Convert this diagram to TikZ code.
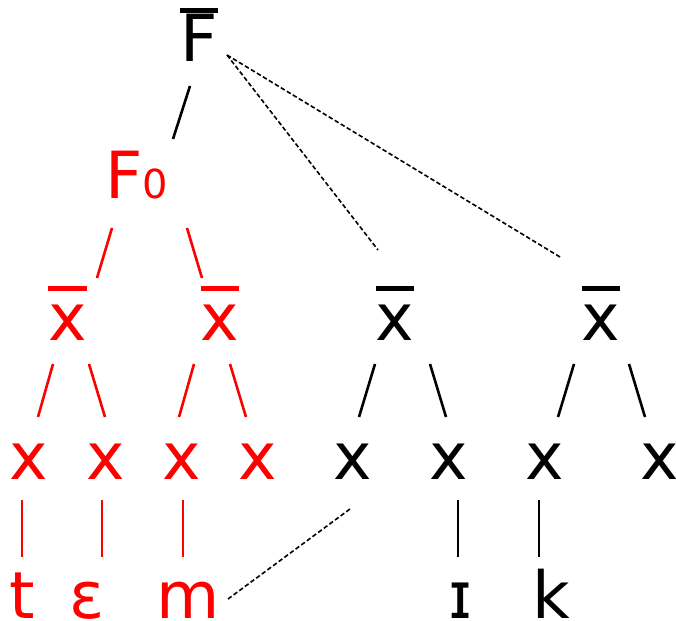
\documentclass[tikz,border=0pt]{standalone}
\usepackage{fontspec}
\setmainfont{DejaVu Sans}
\newcommand\ovlbar[1]{\ooalign{\hidewidth\rule[0.76em]{0.585em}{0.075em}\hidewidth\cr#1}}
\tikzset{
  lab/.style={inner sep=0pt, outer sep=0pt, anchor=base, font=\fontsize{65}{70}\selectfont},
  redlab/.style={lab, text=red},
  tree/.style={line width=2.6pt},
  redtree/.style={tree, draw=red},
  dashlink/.style={line width=1.6pt, dash pattern=on 4.5pt off 2.5pt},
}
\begin{document}
\begin{tikzpicture}[x=1pt,y=-1pt]
\useasboundingbox (0,0) rectangle (676,620);
% nodes
\node[lab] (Fb) at (199,62) {\ovlbar{F}};
\node[redlab] (F0) at (137,198) {F{\fontsize{40}{45}\selectfont 0}};
\node[redlab] (xb1) at (67.5,340) {\ovlbar{x}};
\node[redlab] (xb2) at (220,340) {\ovlbar{x}};
\node[lab] (xb3) at (395,340) {\ovlbar{x}};
\node[lab] (xb4) at (601,340) {\ovlbar{x}};
\node[redlab] (x1) at (29,479) {x};
\node[redlab] (x2) at (106,479) {x};
\node[redlab] (x3) at (182,479) {x};
\node[redlab] (x4) at (258,479) {x};
\node[lab] (x5) at (353,479) {x};
\node[lab] (x6) at (449,479) {x};
\node[lab] (x7) at (545,479) {x};
\node[lab] (x8) at (660,479) {x};
\node[redlab] (st) at (22,618) {t};
\node[redlab] (se) at (87,618) {ɛ};
\node[redlab] (sm) at (188,618) {m};
\node[lab] (si) at (461,618) {ɪ};
\node[lab] (sk) at (551,618) {k};
% connector end points
\coordinate (Fb-s) at (190,86);   \coordinate (F0-n) at (173,139);
\coordinate (Fb-d) at (227,55);
\coordinate (xb3-n) at (378,250); \coordinate (xb4-n) at (560,257);
\coordinate (F0-sl) at (112,228); \coordinate (xb1-n) at (97,278);
\coordinate (F0-sr) at (187,228); \coordinate (xb2-n) at (202,278);
\coordinate (xb1-sl) at (53,364);  \coordinate (x1-n) at (38,417);
\coordinate (xb1-sr) at (89,364);  \coordinate (x2-n) at (105,417);
\coordinate (xb2-sl) at (194,364); \coordinate (x3-n) at (179,417);
\coordinate (xb2-sr) at (230,364); \coordinate (x4-n) at (246,417);
\coordinate (xb3-sl) at (375,364); \coordinate (x5-n) at (359,417);
\coordinate (xb3-sr) at (430,364); \coordinate (x6-n) at (446,417);
\coordinate (xb4-sl) at (574,364); \coordinate (x7-n) at (558,417);
\coordinate (xb4-sr) at (629,364); \coordinate (x8-n) at (645,417);
\coordinate (x1-s) at (22,500);  \coordinate (st-n) at (22,557);
\coordinate (x2-s) at (102,500); \coordinate (se-n) at (102,557);
\coordinate (x3-s) at (183,500); \coordinate (sm-n) at (183,557);
\coordinate (x6-s) at (458,500); \coordinate (si-n) at (458,557);
\coordinate (x7-s) at (539,500); \coordinate (sk-n) at (539,557);
\coordinate (sm-e) at (228,599); \coordinate (x5-s) at (350,509);
% connectors
\draw[tree] (Fb-s) -- (F0-n);
\draw[dashlink] (Fb-d) -- (xb3-n);
\draw[dashlink] (Fb-d) -- (xb4-n);
\draw[redtree] (F0-sl) -- (xb1-n);
\draw[redtree] (F0-sr) -- (xb2-n);
\draw[redtree] (xb1-sl) -- (x1-n);
\draw[redtree] (xb1-sr) -- (x2-n);
\draw[redtree] (xb2-sl) -- (x3-n);
\draw[redtree] (xb2-sr) -- (x4-n);
\draw[tree] (xb3-sl) -- (x5-n);
\draw[tree] (xb3-sr) -- (x6-n);
\draw[tree] (xb4-sl) -- (x7-n);
\draw[tree] (xb4-sr) -- (x8-n);
\draw[redtree] (x1-s) -- (st-n);
\draw[redtree] (x2-s) -- (se-n);
\draw[redtree] (x3-s) -- (sm-n);
\draw[tree] (x6-s) -- (si-n);
\draw[tree] (x7-s) -- (sk-n);
\draw[dashlink] (sm-e) -- (x5-s);
\end{tikzpicture}
\end{document}
